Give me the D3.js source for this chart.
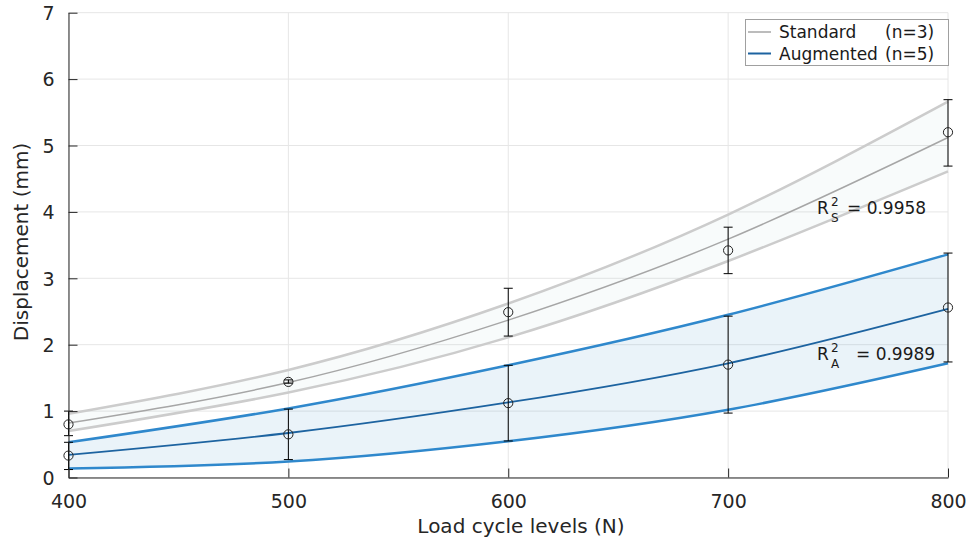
<!DOCTYPE html>
<html>
<head>
<meta charset="utf-8">
<script src="https://cdn.jsdelivr.net/npm/d3@7"></script>
<style>
body { margin: 0; background: #fff; }
svg { font-family: "DejaVu Sans", sans-serif; }
</style>
</head>
<body>
<svg id="chart" width="971" height="541"></svg>
<script>
var WIDTH = 971;
var HEIGHT = 541;
var margin = {top: 12.7, right: 23, bottom: 63.5, left: 68.5};

// load levels (N)
var loads = [400, 500, 600, 700, 800];
var xTicks = [400, 500, 600, 700, 800];
var yTicks = [0, 1, 2, 3, 4, 5, 6, 7];

// standard (n=3)
var stdMean = [0.80, 1.44, 2.49, 3.42, 5.20];
var stdErrLow = [0.63, 1.42, 2.13, 3.07, 4.69];
var stdErrHigh = [1.00, 1.47, 2.85, 3.77, 5.69];
var stdFit = [0.82, 1.43, 2.37, 3.59, 5.12];
var stdUpper = [0.96, 1.62, 2.62, 3.96, 5.66];
var stdLower = [0.70, 1.28, 2.11, 3.26, 4.61];

// augmented (n=5)
var augMean = [0.33, 0.65, 1.12, 1.70, 2.56];
var augErrLow = [0.12, 0.27, 0.55, 0.97, 1.74];
var augErrHigh = [0.53, 1.03, 1.69, 2.43, 3.38];
var augFit = [0.34, 0.67, 1.13, 1.72, 2.54];
var augUpper = [0.53, 1.04, 1.69, 2.45, 3.36];
var augLower = [0.135, 0.24, 0.545, 1.02, 1.72];

var legendLabels = ['Standard', 'Augmented'];
var legendN = ['(n=3)', '(n=5)'];

var svg = d3.select('#chart');

var xScale = d3.scaleLinear().domain([400, 800]).range([margin.left, WIDTH - margin.right]);
var yScale = d3.scaleLinear().domain([0, 7]).range([HEIGHT - margin.bottom, margin.top]);

// grid
var grid = svg.append('g');
grid.selectAll('line.gx').data(xTicks).enter().append('line')
    .attr('x1', function(d){ return xScale(d); })
    .attr('x2', function(d){ return xScale(d); })
    .attr('y1', yScale(0)).attr('y2', yScale(7))
    .attr('stroke', '#e6e6e6').attr('stroke-width', 1);
grid.selectAll('line.gy').data(yTicks).enter().append('line')
    .attr('y1', function(d){ return yScale(d); })
    .attr('y2', function(d){ return yScale(d); })
    .attr('x1', xScale(400)).attr('x2', xScale(800))
    .attr('stroke', '#e6e6e6').attr('stroke-width', 1);

var pts = function(arr){
    return arr.map(function(v, i){ return [loads[i], v]; });
};

var line = d3.line()
    .x(function(d){ return xScale(d[0]); })
    .y(function(d){ return yScale(d[1]); })
    .curve(d3.curveNatural);

var band = function(lo, hi){
    return d3.area()
        .x(function(d, i){ return xScale(loads[i]); })
        .y0(function(d, i){ return yScale(lo[i]); })
        .y1(function(d, i){ return yScale(hi[i]); })
        .curve(d3.curveNatural)(lo);
};

var plot = svg.append('g');

// band fills
plot.append('path').attr('d', band(stdLower, stdUpper))
    .attr('fill', '#8fb8b8').attr('fill-opacity', 0.06);
plot.append('path').attr('d', band(augLower, augUpper))
    .attr('fill', '#2e86c9').attr('fill-opacity', 0.1);

// standard lines
[stdUpper, stdLower].forEach(function(arr){
    plot.append('path').attr('d', line(pts(arr)))
        .attr('fill', 'none').attr('stroke', '#cccccc').attr('stroke-width', 2.5);
});
plot.append('path').attr('d', line(pts(stdFit)))
    .attr('fill', 'none').attr('stroke', '#a6a6a6').attr('stroke-width', 1.5);

// augmented lines
[augUpper, augLower].forEach(function(arr){
    plot.append('path').attr('d', line(pts(arr)))
        .attr('fill', 'none').attr('stroke', '#2f88cc').attr('stroke-width', 2.5);
});
plot.append('path').attr('d', line(pts(augFit)))
    .attr('fill', 'none').attr('stroke', '#1d63a0').attr('stroke-width', 1.8);

// error bars + markers
var drawErr = function(mean, lo, hi){
    var g = plot.append('g');
    loads.forEach(function(x, i){
        var cx = xScale(x);
        g.append('line').attr('x1', cx).attr('x2', cx)
            .attr('y1', yScale(lo[i])).attr('y2', yScale(hi[i]))
            .attr('stroke', '#000').attr('stroke-width', 1);
        [lo[i], hi[i]].forEach(function(v){
            g.append('line').attr('x1', cx - 4.5).attr('x2', cx + 4.5)
                .attr('y1', yScale(v)).attr('y2', yScale(v))
                .attr('stroke', '#000').attr('stroke-width', 1);
        });
        g.append('circle').attr('cx', cx).attr('cy', yScale(mean[i]))
            .attr('r', 4.6).attr('fill', 'none')
            .attr('stroke', '#222').attr('stroke-width', 1);
    });
};
drawErr(stdMean, stdErrLow, stdErrHigh);
drawErr(augMean, augErrLow, augErrHigh);

// axes
var bottomAxis = d3.axisBottom(xScale).tickValues(xTicks).tickFormat(d3.format('d'))
    .tickSizeInner(-9).tickSizeOuter(0).tickPadding(17);
var leftAxis = d3.axisLeft(yScale).tickValues(yTicks).tickFormat(d3.format('d'))
    .tickSizeInner(-9).tickSizeOuter(0).tickPadding(14);

var xa = svg.append('g').attr('transform', 'translate(0,' + yScale(0) + ')').call(bottomAxis);
var ya = svg.append('g').attr('transform', 'translate(' + xScale(400) + ',0)').call(leftAxis);
[xa, ya].forEach(function(a){
    a.select('.domain').attr('stroke', '#262626');
    a.selectAll('.tick line').attr('stroke', '#262626');
    a.selectAll('.tick text').attr('fill', '#262626')
        .style('font-size', '19px').style('font-family', '"DejaVu Sans", sans-serif');
});
ya.selectAll('.tick text').attr('dy', '0.36em');

// axis labels
svg.append('text').attr('x', 521).attr('y', 533).attr('text-anchor', 'middle')
    .attr('fill', '#262626').style('font-size', '20px').text('Load cycle levels (N)');
svg.append('text').attr('transform', 'translate(28,242) rotate(-90)').attr('text-anchor', 'middle')
    .attr('fill', '#262626').style('font-size', '20px').text('Displacement (mm)');

// R^2 labels
var rLabel = function(x, y, sub, val, gap){
    var t = svg.append('text').attr('fill', '#1a1a1a').style('font-size', '17px');
    t.append('tspan').attr('x', x).attr('y', y).text('R');
    t.append('tspan').attr('x', x + 14).attr('y', y - 8).style('font-size', '12px').text('2');
    t.append('tspan').attr('x', x + 14).attr('y', y + 8).style('font-size', '12px').text(sub);
    t.append('tspan').attr('x', x + gap).attr('y', y).text('= ' + val);
};
rLabel(817, 214, 'S', '0.9958', 30);
rLabel(817, 360, 'A', '0.9989', 39);

// legend
var lg = svg.append('g');
lg.append('rect').attr('x', 745.5).attr('y', 19.5).attr('width', 203).attr('height', 46)
    .attr('fill', '#fff').attr('stroke', '#a0a0a0').attr('stroke-width', 1);
var legendColors = ['#a6a6a6', '#1d63a0'];
legendLabels.forEach(function(lab, i){
    var y = 32 + i * 21.5;
    lg.append('line').attr('x1', 748).attr('x2', 771).attr('y1', y).attr('y2', y)
        .attr('stroke', legendColors[i]).attr('stroke-width', i == 0 ? 1.5 : 2);
    lg.append('text').attr('x', 779).attr('y', y).attr('dy', '0.36em')
        .attr('fill', '#1a1a1a').style('font-size', '17px').text(lab);
    lg.append('text').attr('x', 885).attr('y', y).attr('dy', '0.36em')
        .attr('fill', '#1a1a1a').style('font-size', '17px').text(legendN[i]);
});
</script>
</body>
</html>
